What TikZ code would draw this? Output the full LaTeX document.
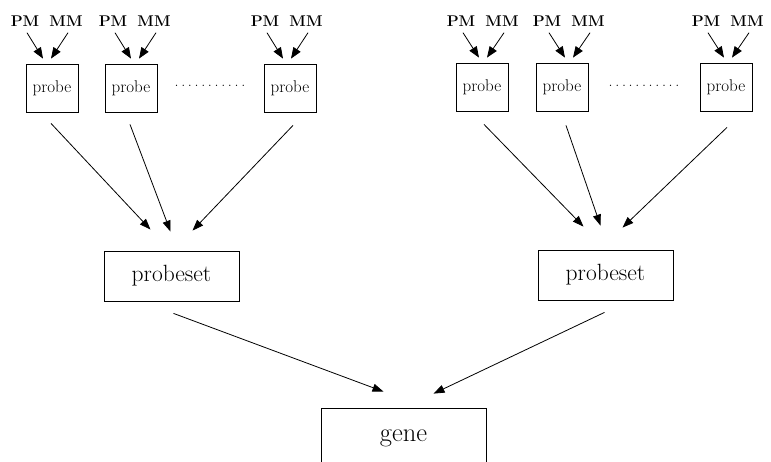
\documentclass[tikz,border=0pt]{standalone}
\usetikzlibrary{arrows.meta}
\begin{document}
\begin{tikzpicture}[x=1pt,y=-1pt,
  line width=0.8pt,
  probebox/.style={draw, minimum width=52pt, minimum height=48pt, inner sep=0pt,
    font=\fontsize{17}{19}\selectfont},
  setbox/.style={draw, minimum width=135pt, minimum height=50pt, inner sep=0pt,
    font=\fontsize{23.5}{28}\selectfont},
  genebox/.style={draw, minimum width=165pt, minimum height=60pt, inner sep=0pt,
    font=\fontsize{26.5}{31}\selectfont},
  lbl/.style={inner sep=0pt, font=\fontsize{15.5}{18}\selectfont\bfseries},
  dotrow/.style={inner sep=0pt, font=\fontsize{16}{18}\selectfont},
  inarr/.style={-{Triangle[length=11pt,width=8.5pt]}},
  arr/.style={-{Triangle[length=11pt,width=8pt]}}]
\clip (0,0) rectangle (771,461);

% probe boxes, left group
\node[probebox] (p1) at (52,88) {probe};
\node[probebox] (p2) at (131,88) {probe};
\node[probebox] (p3) at (290,88) {probe};
\node[dotrow] (d1) at (210,86) {.\,.\,.\,.\,.\,.\,.\,.\,.\,.\,.};
% probe boxes, right group
\node[probebox] (q1) at (482,87) {probe};
\node[probebox] (q2) at (562,87) {probe};
\node[probebox] (q3) at (726,87) {probe};
\node[dotrow] (d2) at (644,86) {.\,.\,.\,.\,.\,.\,.\,.\,.\,.\,.};

% PM / MM inputs of every probe
\foreach \b/\cx/\o in {p1/52/-5, p2/131/4, p3/290/-3, q1/482/1, q2/562/7, q3/726/2}{
  \node[lbl] (pm-\b) at (\cx+\o-22,21) {PM};
  \node[lbl] (mm-\b) at (\cx+\o+19,21) {MM};
  \draw[inarr] ([xshift=2pt,yshift=-6pt]pm-\b.south) -- ([xshift=\o pt-4pt,yshift=5pt]\b.north);
  \draw[inarr] ([xshift=2pt,yshift=-6pt]mm-\b.south) -- ([xshift=\o pt+4pt,yshift=5pt]\b.north);
}

% probesets and gene
\node[setbox] (s1) at (171.5,276) {probeset};
\node[setbox] (s2) at (605.5,275) {probeset};
\node[genebox] (g) at (403.5,438) {gene};

% probes to probesets
\draw[arr] ([xshift=-1pt,yshift=-11pt]p1.south) -- ([xshift=-21pt,yshift=21pt]s1.north);
\draw[arr] ([xshift=-1pt,yshift=-12pt]p2.south) -- ([xshift=-1pt,yshift=19pt]s1.north);
\draw[arr] ([xshift=3pt,yshift=-13pt]p3.south) -- ([xshift=21pt,yshift=20pt]s1.north);
\draw[arr] ([xshift=2pt,yshift=-13pt]q1.south) -- ([xshift=-22pt,yshift=23pt]s2.north);
\draw[arr] ([xshift=4pt,yshift=-14pt]q2.south) -- ([xshift=-5pt,yshift=24pt]s2.north);
\draw[arr] ([xshift=1pt,yshift=-16pt]q3.south) -- ([xshift=17pt,yshift=22pt]s2.north);

% probesets to gene
\draw[arr] ([xshift=2pt,yshift=-12pt]s1.south) -- ([xshift=-20pt,yshift=16pt]g.north);
\draw[arr] ([xshift=-1pt,yshift=-12pt]s2.south) -- ([xshift=30pt,yshift=14pt]g.north);
\end{tikzpicture}
\end{document}
